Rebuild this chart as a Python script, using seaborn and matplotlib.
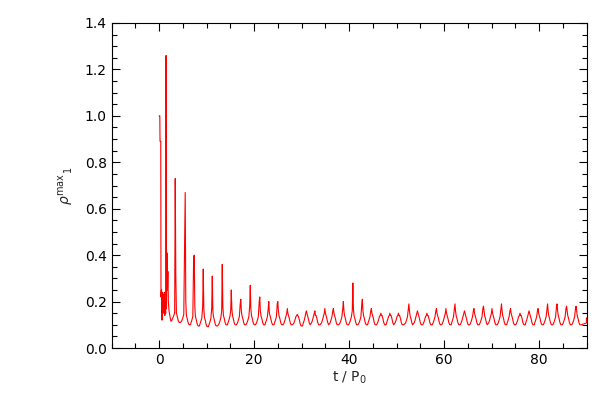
import numpy as np
import pandas as pd
import matplotlib
matplotlib.use("Agg")
import matplotlib.pyplot as plt
import matplotlib.ticker as mticker
import seaborn as sns

# ---------------------------------------------------------------
#  DATA
# ---------------------------------------------------------------
# first ~3 P0: initial relaxation, sampled point by point
early_t = [0.0, 0.15, 0.2, 0.35, 0.4, 0.5, 0.6, 0.7, 0.8, 0.9, 1.0,
           1.1, 1.2, 1.3, 1.4, 1.47, 1.55, 1.65, 1.75, 1.85, 1.95,
           2.1, 2.3, 2.5, 2.7, 2.9, 3.1, 3.25]
early_rho = [1.0, 1.0, 0.89, 0.89, 0.22, 0.25, 0.12, 0.24, 0.16, 0.23,
             0.15, 0.24, 0.14, 0.16, 0.15, 1.26, 0.17, 0.41, 0.25, 0.33,
             0.20, 0.16, 0.135, 0.115, 0.12, 0.13, 0.14, 0.15]

# later cycles: spike time, spike height, value just before / after,
# and the trough level that follows
peak_t = [3.4, 5.5, 7.4, 9.3, 11.2, 13.3, 15.2, 17.2, 19.2, 21.2,
          23.1, 25.0, 27.0, 29.1, 31.0, 32.8, 34.9, 36.7, 38.8, 40.8,
          42.8, 44.7, 46.7, 48.6, 50.4, 52.6, 54.4, 56.4, 58.4, 60.4,
          62.3, 64.3, 66.3, 68.3, 70.1, 72.1, 74.0, 76.0, 77.9, 79.8,
          81.8, 83.8, 85.8, 87.8]
peak_rho = [0.73, 0.67, 0.40, 0.34, 0.31, 0.36, 0.25, 0.21, 0.27, 0.22,
            0.20, 0.20, 0.17, 0.145, 0.16, 0.16, 0.17, 0.17, 0.20, 0.28,
            0.21, 0.17, 0.15, 0.15, 0.15, 0.19, 0.16, 0.15, 0.17, 0.17,
            0.19, 0.16, 0.17, 0.18, 0.17, 0.19, 0.17, 0.15, 0.16, 0.17,
            0.19, 0.19, 0.18, 0.18]
pre_rho = [0.15, 0.46, 0.39, 0.18, 0.17, 0.16, 0.16, 0.19, 0.18, 0.20,
           0.17, 0.19, 0.15, 0.14, 0.15, 0.15, 0.15, 0.16, 0.17, 0.16,
           0.19, 0.16, 0.14, 0.14, 0.14, 0.17, 0.15, 0.14, 0.16, 0.15,
           0.17, 0.15, 0.16, 0.17, 0.15, 0.17, 0.16, 0.14, 0.15, 0.16,
           0.17, 0.18, 0.17, 0.17]
post_rho = [0.31, 0.20, 0.18, 0.17, 0.16, 0.18, 0.17, 0.16, 0.17, 0.16,
            0.15, 0.16, 0.15, 0.14, 0.15, 0.14, 0.15, 0.15, 0.16, 0.17,
            0.16, 0.15, 0.14, 0.14, 0.14, 0.16, 0.15, 0.14, 0.15, 0.15,
            0.16, 0.15, 0.15, 0.16, 0.15, 0.16, 0.15, 0.14, 0.15, 0.15,
            0.16, 0.16, 0.16, 0.16]
trough_rho = [0.11, 0.10, 0.095, 0.092, 0.095, 0.10, 0.10, 0.10, 0.10, 0.10,
              0.10, 0.10, 0.10, 0.095, 0.10, 0.10, 0.10, 0.10, 0.10, 0.10,
              0.10, 0.10, 0.10, 0.10, 0.10, 0.10, 0.10, 0.10, 0.10, 0.10,
              0.10, 0.10, 0.10, 0.10, 0.10, 0.10, 0.10, 0.10, 0.10, 0.10,
              0.10, 0.10, 0.10, 0.10]
end_t, end_rho = 90.0, 0.13

# typical shape of one quiet stretch between two spikes (height above trough)
after_dt = [0.25, 0.45, 0.6, 0.8, 1.1]
after_rise = [0.04, 0.025, 0.01, 0.0, 0.0]
before_dt = [0.7, 0.5, 0.3]
before_rise = [0.008, 0.02, 0.035]

# ---------------------------------------------------------------
#  BUILD THE CURVE
# ---------------------------------------------------------------
t_all, r_all = list(early_t), list(early_rho)
for i, tp in enumerate(peak_t):
    t_all += [tp - 0.12, tp, tp + 0.12]
    r_all += [pre_rho[i], peak_rho[i], post_rho[i]]
    t_next = peak_t[i + 1] if i + 1 < len(peak_t) else end_t + 0.7
    for dt, rise in zip(after_dt, after_rise):
        if tp + dt < min(t_next - 0.75, end_t):
            t_all.append(tp + dt)
            r_all.append(trough_rho[i] + rise)
    for dt, rise in zip(before_dt, before_rise):
        if t_next - dt <= end_t:
            t_all.append(t_next - dt)
            r_all.append(trough_rho[i] + rise)
t_all.append(end_t)
r_all.append(end_rho)

df = pd.DataFrame({"t": t_all, "rho": r_all})

# ---------------------------------------------------------------
#  PLOT
# ---------------------------------------------------------------
sns.set_style("ticks")
plt.rcParams.update({
    "font.family": "DejaVu Sans",
    "font.size": 10,
    "axes.linewidth": 0.8,
    "axes.edgecolor": "black",
    "xtick.color": "black",
    "ytick.color": "black",
})

fig = plt.figure(figsize=(6, 4), dpi=100)
ax = fig.add_axes([0.186, 0.13, 0.7915, 0.8125])

sns.lineplot(data=df, x="t", y="rho", sort=False, estimator=None,
             color="red", linewidth=0.8, ax=ax)

ax.set_xlim(-10, 90)
ax.set_ylim(0, 1.4)
ax.xaxis.set_major_locator(mticker.FixedLocator([0, 20, 40, 60, 80]))
ax.xaxis.set_minor_locator(mticker.MultipleLocator(5))
ax.yaxis.set_major_locator(mticker.MultipleLocator(0.2))
ax.yaxis.set_minor_locator(mticker.MultipleLocator(0.05))
ax.yaxis.set_major_formatter(mticker.FormatStrFormatter("%.1f"))
ax.xaxis.set_major_formatter(mticker.FormatStrFormatter("%d"))

ax.tick_params(which="both", direction="in", top=True, right=True,
               width=0.8, labelsize=10)
ax.tick_params(which="major", length=6)
ax.tick_params(which="minor", length=3.5)
for s in ax.spines.values():
    s.set_visible(True)

ax.set_xlabel(r"t / P$_0$", fontsize=10, labelpad=2)
ax.set_ylabel(r"$\rho^{\rm max}{}_{1}$", fontsize=10, labelpad=6)

plt.savefig("out.png", dpi=100)
